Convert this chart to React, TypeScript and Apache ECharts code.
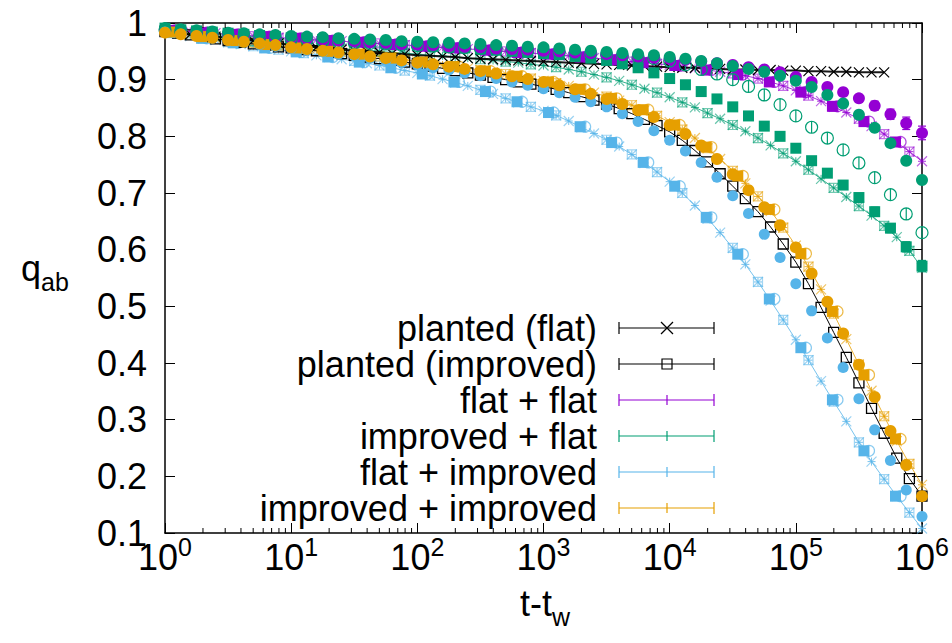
import React, { useEffect, useRef } from "react";
import * as echarts from "echarts";

// Waiting times t - t_w (log-spaced samples)
const T_DENSE = [
  1, 1.259, 1.585, 1.995, 2.512, 3.162, 3.981, 5.012, 6.31, 7.943,
  10, 12.59, 15.85, 19.95, 25.12, 31.62, 39.81, 50.12, 63.1, 79.43,
  100, 125.9, 158.5, 199.5, 251.2, 316.2, 398.1, 501.2, 631, 794.3,
  1000, 1259, 1585, 1995, 2512, 3162, 3981, 5012, 6310, 7943,
  10000, 12589, 15849, 19953, 25119, 31623, 39811, 50119, 63096, 79433,
  100000, 125893, 158489, 199526, 251189, 316228, 398107, 501187, 630957, 794328,
  1000000,
];
const T_SPARSE = [
  1, 1.334, 1.778, 2.371, 3.162, 4.217, 5.623, 7.499,
  10, 13.34, 17.78, 23.71, 31.62, 42.17, 56.23, 74.99,
  100, 133.4, 177.8, 237.1, 316.2, 421.7, 562.3, 749.9,
  1000, 1334, 1778, 2371, 3162, 4217, 5623, 7499,
  10000, 13335, 17783, 23714, 31623, 42170, 56234, 74989,
  100000, 133352, 177828, 237137, 316228, 421697, 562341, 749894,
  1000000,
];
const T_QUARTER = [
  1.096, 1.95, 3.467, 6.166, 10.96, 19.5, 34.67, 61.66, 109.6, 195, 346.7, 616.6,
  1096, 1950, 3467, 6166, 10965, 19498, 34674, 61660, 109648, 194984, 346737, 616595,
];
const T_QUARTER_B = [
  1.202, 2.138, 3.802, 6.761, 12.02, 21.38, 38.02, 67.61, 120.2, 213.8, 380.2, 676.1,
  1202, 2138, 3802, 6761, 12023, 21380, 38019, 67608, 120226, 213796, 380189, 676083,
];

// planted (flat) / planted (improved)
const PLANTED_FLAT = [
  0.985, 0.982, 0.98, 0.978, 0.976, 0.974, 0.972, 0.969, 0.966, 0.964,
  0.961, 0.959, 0.957, 0.955, 0.953, 0.951, 0.95, 0.948, 0.946, 0.945,
  0.943, 0.942, 0.941, 0.94, 0.938, 0.937, 0.936, 0.935, 0.934, 0.933,
  0.932, 0.931, 0.93, 0.929, 0.928, 0.927, 0.926, 0.925, 0.924, 0.923,
  0.922, 0.921, 0.921, 0.92, 0.919, 0.918, 0.918, 0.917, 0.917, 0.916,
  0.916, 0.915, 0.915, 0.914, 0.914, 0.913, 0.913, 0.913,
];
const PLANTED_IMPROVED = [
  0.985, 0.982, 0.979, 0.976, 0.972, 0.969, 0.966, 0.963, 0.961, 0.958,
  0.956, 0.953, 0.951, 0.948, 0.946, 0.943, 0.94, 0.937, 0.934, 0.931,
  0.928, 0.924, 0.92, 0.916, 0.912, 0.908, 0.904, 0.9, 0.896, 0.892,
  0.888, 0.883, 0.877, 0.87, 0.864, 0.857, 0.849, 0.84, 0.83, 0.819,
  0.808, 0.793, 0.775, 0.755, 0.734, 0.712, 0.69, 0.667, 0.64, 0.61,
  0.578, 0.54, 0.498, 0.454, 0.41, 0.365, 0.32, 0.276, 0.232, 0.196,
  0.165,
];

// flat + flat
const FF_LINE = [
  0.988, 0.986, 0.985, 0.983, 0.982, 0.98, 0.979, 0.977, 0.976, 0.974,
  0.973, 0.972, 0.97, 0.969, 0.968, 0.966, 0.965, 0.964, 0.962, 0.961,
  0.96, 0.958, 0.957, 0.956, 0.954, 0.953, 0.951, 0.95, 0.948, 0.947,
  0.945, 0.944, 0.942, 0.94, 0.938, 0.936, 0.934, 0.932, 0.93, 0.928,
  0.926, 0.923, 0.92, 0.917, 0.914, 0.911, 0.907, 0.902, 0.896, 0.889,
  0.881, 0.872, 0.862, 0.852, 0.842, 0.831, 0.818, 0.804, 0.789, 0.773,
  0.756,
];
const FF_CIRCLES = [
  0.988, 0.986, 0.984, 0.982, 0.98, 0.978, 0.977, 0.975,
  0.974, 0.972, 0.971, 0.969, 0.968, 0.966, 0.965, 0.963,
  0.962, 0.961, 0.959, 0.958, 0.957, 0.955, 0.954, 0.953,
  0.951, 0.95, 0.948, 0.947, 0.945, 0.943, 0.941, 0.939,
  0.937, 0.935, 0.932, 0.929, 0.926, 0.922, 0.918, 0.913,
  0.905, 0.896, 0.887, 0.878, 0.867, 0.854, 0.839, 0.823,
  0.806,
];
const FF_CIRCLES_ERR_TAIL = [0.004, 0.005, 0.006, 0.007, 0.008, 0.009, 0.011, 0.012];
const FF_SQUARES = [
  0.987, 0.983, 0.98, 0.976, 0.973, 0.969, 0.966, 0.962, 0.959, 0.956, 0.952, 0.948,
  0.945, 0.94, 0.935, 0.93, 0.925, 0.917, 0.909, 0.896, 0.878, 0.853, 0.826, 0.79,
];

// improved + flat
const IF_LINE = [
  0.986, 0.983, 0.98, 0.977, 0.975, 0.972, 0.97, 0.968, 0.966, 0.964,
  0.962, 0.96, 0.958, 0.957, 0.955, 0.953, 0.952, 0.95, 0.948, 0.947,
  0.945, 0.943, 0.942, 0.94, 0.938, 0.936, 0.934, 0.932, 0.93, 0.927,
  0.925, 0.922, 0.918, 0.914, 0.909, 0.904, 0.898, 0.891, 0.884, 0.877,
  0.869, 0.86, 0.851, 0.841, 0.831, 0.82, 0.809, 0.797, 0.784, 0.77,
  0.756, 0.741, 0.725, 0.709, 0.693, 0.677, 0.66, 0.642, 0.622, 0.598,
  0.568,
];
const IF_CIRCLES = [
  0.991, 0.989, 0.987, 0.985, 0.983, 0.982, 0.98, 0.979,
  0.977, 0.976, 0.975, 0.973, 0.972, 0.971, 0.97, 0.968,
  0.967, 0.966, 0.965, 0.964, 0.963, 0.961, 0.96, 0.958,
  0.957, 0.955, 0.953, 0.951, 0.949, 0.947, 0.945, 0.943,
  0.94, 0.937, 0.933, 0.929, 0.924, 0.919, 0.914, 0.907,
  0.898, 0.887, 0.873, 0.858, 0.838, 0.815, 0.788, 0.757,
  0.723,
];
const IF_SQUARES = [
  0.991, 0.988, 0.986, 0.984, 0.982, 0.98, 0.978, 0.976,
  0.974, 0.973, 0.971, 0.969, 0.967, 0.966, 0.964, 0.962,
  0.961, 0.959, 0.957, 0.956, 0.954, 0.952, 0.95, 0.948,
  0.946, 0.944, 0.941, 0.938, 0.934, 0.928, 0.921, 0.912,
  0.902, 0.891, 0.879, 0.866, 0.852, 0.836, 0.818, 0.8,
  0.779, 0.757, 0.735, 0.714, 0.692, 0.667, 0.638, 0.605,
  0.571,
];
const IF_SQUARES_ERR_TAIL = [0.005, 0.006, 0.006, 0.007, 0.008, 0.008, 0.009, 0.01];
const IF_OPEN = [
  0.988, 0.985, 0.983, 0.981, 0.979, 0.977, 0.975, 0.973,
  0.971, 0.97, 0.968, 0.967, 0.965, 0.964, 0.963, 0.961,
  0.96, 0.959, 0.958, 0.956, 0.955, 0.954, 0.953, 0.951,
  0.95, 0.949, 0.947, 0.946, 0.944, 0.942, 0.94, 0.937,
  0.933, 0.926, 0.918, 0.91, 0.9, 0.888, 0.873, 0.856,
  0.836, 0.816, 0.797, 0.776, 0.753, 0.727, 0.697, 0.663,
  0.63,
];

// flat + improved
const FI_LINE = [
  0.985, 0.981, 0.977, 0.973, 0.97, 0.966, 0.963, 0.959, 0.956, 0.953,
  0.95, 0.947, 0.943, 0.94, 0.936, 0.933, 0.929, 0.925, 0.921, 0.916,
  0.912, 0.907, 0.901, 0.895, 0.889, 0.882, 0.875, 0.867, 0.86, 0.852,
  0.845, 0.837, 0.827, 0.816, 0.805, 0.794, 0.782, 0.768, 0.753, 0.737,
  0.72, 0.7, 0.678, 0.655, 0.63, 0.603, 0.574, 0.543, 0.51, 0.476,
  0.441, 0.405, 0.368, 0.332, 0.297, 0.26, 0.226, 0.195, 0.165, 0.136,
  0.108,
];
const FI_CIRCLES = [
  0.984, 0.98, 0.977, 0.973, 0.969, 0.966, 0.962, 0.959,
  0.955, 0.952, 0.949, 0.945, 0.942, 0.938, 0.934, 0.93,
  0.926, 0.921, 0.917, 0.912, 0.907, 0.902, 0.896, 0.89,
  0.884, 0.877, 0.869, 0.861, 0.852, 0.84, 0.826, 0.81,
  0.793, 0.774, 0.754, 0.728, 0.695, 0.664, 0.627, 0.586,
  0.54, 0.492, 0.444, 0.392, 0.337, 0.282, 0.228, 0.176,
  0.129,
];
const FI_SQUARES = [
  0.983, 0.973, 0.965, 0.956, 0.949, 0.94, 0.931, 0.921, 0.91, 0.896, 0.879, 0.861,
  0.842, 0.817, 0.789, 0.754, 0.712, 0.657, 0.592, 0.513, 0.427, 0.335, 0.245, 0.165,
];

// improved + improved
const II_LINE = [
  0.985, 0.982, 0.979, 0.976, 0.973, 0.97, 0.967, 0.965, 0.962, 0.96,
  0.957, 0.955, 0.953, 0.95, 0.948, 0.946, 0.943, 0.941, 0.938, 0.935,
  0.932, 0.929, 0.926, 0.923, 0.92, 0.917, 0.913, 0.91, 0.906, 0.902,
  0.898, 0.894, 0.889, 0.883, 0.877, 0.87, 0.863, 0.855, 0.846, 0.836,
  0.825, 0.812, 0.797, 0.779, 0.76, 0.739, 0.717, 0.694, 0.668, 0.639,
  0.607, 0.57, 0.53, 0.487, 0.442, 0.397, 0.351, 0.306, 0.262, 0.222,
  0.185,
];
const II_CIRCLES = [
  0.983, 0.98, 0.977, 0.974, 0.97, 0.967, 0.964, 0.961,
  0.957, 0.954, 0.951, 0.948, 0.945, 0.941, 0.938, 0.934,
  0.93, 0.927, 0.923, 0.919, 0.915, 0.911, 0.906, 0.901,
  0.896, 0.89, 0.883, 0.875, 0.866, 0.857, 0.846, 0.834,
  0.82, 0.804, 0.784, 0.76, 0.733, 0.705, 0.675, 0.643,
  0.604, 0.558, 0.508, 0.452, 0.397, 0.34, 0.28, 0.22,
  0.165,
];
const II_SQUARES = [
  0.984, 0.976, 0.969, 0.962, 0.956, 0.95, 0.945, 0.938, 0.931, 0.923, 0.915, 0.906,
  0.896, 0.883, 0.867, 0.847, 0.82, 0.781, 0.73, 0.671, 0.593, 0.491, 0.379, 0.266,
];

const LEGEND_LABELS = [
  "planted (flat)",
  "planted (improved)",
  "flat + flat",
  "improved + flat",
  "flat + improved",
  "improved + improved",
];

const BLACK = "#000000";
const PURPLE = "#9400d3";
const GREEN = "#009e73";
const BLUE = "#56b4e9";
const ORANGE = "#e69f00";
const FONT = "'Liberation Sans', Arial, Helvetica, sans-serif";

const PLUS = "path://M5,0L5,10M0,5L10,5";
const CROSS = "path://M0,0L10,10M10,0L0,10";
const CIRCLE_BAR = "path://M10,5A5,5,0,1,1,0,5A5,5,0,1,1,10,5ZM5,0L5,10";

const pts = (ts: number[], vs: number[]) => vs.map((v, i) => [ts[i], v]);
const everyOther = (d: number[][]) => d.filter((_, i) => i % 2 === 1);
const tailErr = (ts: number[], vs: number[], errs: number[]) => {
  const off = vs.length - errs.length;
  return errs.map((e, i) => [ts[off + i], vs[off + i], e]);
};

function lineSeries(data: number[][], color: string, opacity = 1) {
  return {
    type: "line",
    data,
    symbol: PLUS,
    symbolSize: 8,
    showSymbol: true,
    silent: true,
    z: 2,
    lineStyle: { color, width: 1, opacity },
    itemStyle: { color: "rgba(0,0,0,0)", borderColor: color, borderWidth: 1, opacity },
  };
}

function markSeries(
  data: number[][],
  color: string,
  symbol: string,
  size: number,
  filled: boolean,
  opacity = 1,
  z = 3
) {
  return {
    type: "scatter",
    data,
    symbol,
    symbolSize: size,
    silent: true,
    z,
    itemStyle: filled
      ? { color, opacity }
      : { color: "rgba(0,0,0,0)", borderColor: color, borderWidth: 1.2, opacity },
  };
}

function errorBars(data: number[][], color: string) {
  return {
    type: "custom",
    data,
    silent: true,
    clip: false,
    z: 4,
    encode: { x: 0, y: 1 },
    renderItem: (_p: any, api: any) => {
      const t = api.value(0);
      const q = api.value(1);
      const e = api.value(2);
      const lo = api.coord([t, q - e]);
      const hi = api.coord([t, q + e]);
      const x = lo[0];
      const st = { stroke: color, lineWidth: 1.2 };
      return {
        type: "group",
        children: [
          { type: "line", shape: { x1: x, y1: lo[1], x2: x, y2: hi[1] }, style: st },
          { type: "line", shape: { x1: x - 4, y1: lo[1], x2: x + 4, y2: lo[1] }, style: st },
          { type: "line", shape: { x1: x - 4, y1: hi[1], x2: x + 4, y2: hi[1] }, style: st },
        ],
      };
    },
  };
}

// minor ticks of the log axis, 2..9 in every decade, on the bottom and top frame
const MINOR_TICKS: number[][] = [];
for (let d = 0; d < 6; d++) {
  for (let m = 2; m <= 9; m++) MINOR_TICKS.push([m * Math.pow(10, d), 0.1]);
}

function minorTickSeries() {
  return {
    type: "custom",
    data: MINOR_TICKS,
    silent: true,
    clip: false,
    z: 10,
    encode: { x: 0, y: 1 },
    renderItem: (_p: any, api: any) => {
      const t = api.value(0);
      const b = api.coord([t, 0.1]);
      const top = api.coord([t, 1]);
      const st = { stroke: BLACK, lineWidth: 1 };
      return {
        type: "group",
        children: [
          { type: "line", shape: { x1: b[0], y1: b[1], x2: b[0], y2: b[1] - 5 }, style: st },
          { type: "line", shape: { x1: top[0], y1: top[1], x2: top[0], y2: top[1] + 5 }, style: st },
        ],
      };
    },
  };
}

function legendGraphics() {
  const colors = [BLACK, BLACK, PURPLE, GREEN, BLUE, ORANGE];
  const els: any[] = [];
  LEGEND_LABELS.forEach((label, i) => {
    const y = 328 + i * 36;
    const c = colors[i];
    els.push({
      type: "text",
      x: 597,
      y,
      style: {
        text: label,
        fill: BLACK,
        fontSize: 36,
        fontFamily: FONT,
        lineHeight: 32,
        align: "right",
        verticalAlign: "middle",
      },
    });
    const st = { stroke: c, lineWidth: 1.2 };
    els.push({ type: "line", shape: { x1: 619, y1: y, x2: 714, y2: y }, style: st });
    els.push({ type: "line", shape: { x1: 619, y1: y - 6, x2: 619, y2: y + 6 }, style: st });
    els.push({ type: "line", shape: { x1: 714, y1: y - 6, x2: 714, y2: y + 6 }, style: st });
    if (i === 0) {
      els.push({ type: "line", shape: { x1: 661, y1: y - 6, x2: 673, y2: y + 6 }, style: st });
      els.push({ type: "line", shape: { x1: 661, y1: y + 6, x2: 673, y2: y - 6 }, style: st });
    } else if (i === 1) {
      els.push({
        type: "rect",
        shape: { x: 662, y: y - 5, width: 10, height: 10 },
        style: { stroke: c, fill: "none", lineWidth: 1.2 },
      });
    } else {
      els.push({ type: "line", shape: { x1: 667, y1: y - 5, x2: 667, y2: y + 5 }, style: st });
    }
  });
  return els;
}

export default function App() {
  const ref = useRef<HTMLDivElement>(null);

  useEffect(() => {
    if (!ref.current) return;
    const chart = echarts.init(ref.current, undefined, { renderer: "svg" });

    const axisLineStyle = { color: BLACK, width: 1.5 };
    const xCommon = {
      type: "log",
      logBase: 10,
      min: 1,
      max: 1000000,
      splitLine: { show: false },
      axisLine: { show: true, lineStyle: axisLineStyle },
      axisTick: { show: true, inside: true, length: 10, lineStyle: { color: BLACK, width: 1 } },
      minorTick: { show: false },
    };
    const yCommon = {
      type: "value",
      min: 0.1,
      max: 1,
      interval: 0.1,
      splitLine: { show: false },
      axisLine: { show: true, lineStyle: axisLineStyle },
      axisTick: { show: true, inside: true, length: 10, lineStyle: { color: BLACK, width: 1 } },
    };

    const series: any[] = [
      // colored families: line with +, and x / open-square samples along it
      lineSeries(pts(T_DENSE, FF_LINE), PURPLE, 0.8),
      lineSeries(pts(T_DENSE, IF_LINE), GREEN, 0.8),
      lineSeries(pts(T_DENSE, FI_LINE), BLUE, 0.8),
      lineSeries(pts(T_DENSE, II_LINE), ORANGE, 0.8),
      markSeries(pts(T_DENSE, FF_LINE), PURPLE, CROSS, 10, false, 0.6),
      markSeries(pts(T_DENSE, IF_LINE), GREEN, CROSS, 10, false, 0.6),
      markSeries(pts(T_DENSE, FI_LINE), BLUE, CROSS, 10, false, 0.6),
      markSeries(pts(T_DENSE, II_LINE), ORANGE, CROSS, 10, false, 0.6),
      markSeries(everyOther(pts(T_DENSE, FF_LINE)), PURPLE, "rect", 9, false, 0.55),
      markSeries(everyOther(pts(T_DENSE, IF_LINE)), GREEN, "rect", 9, false, 0.55),
      markSeries(everyOther(pts(T_DENSE, FI_LINE)), BLUE, "rect", 9, false, 0.55),
      markSeries(everyOther(pts(T_DENSE, II_LINE)), ORANGE, "rect", 9, false, 0.55),
      // open circles next to the filled squares
      markSeries(pts(T_QUARTER_B, FF_SQUARES), PURPLE, "circle", 11, false, 0.7),
      markSeries(pts(T_QUARTER_B, FI_SQUARES), BLUE, "circle", 11, false, 0.7),
      markSeries(pts(T_QUARTER_B, II_SQUARES), ORANGE, "circle", 11, false, 0.7),
      // planted references
      {
        ...lineSeries(pts(T_DENSE, PLANTED_FLAT), BLACK, 0.9),
        symbol: CROSS,
        symbolSize: 10,
        z: 5,
        lineStyle: { color: BLACK, width: 2, opacity: 0.9 },
        itemStyle: { color: "rgba(0,0,0,0)", borderColor: BLACK, borderWidth: 1.2 },
      },
      {
        ...lineSeries(pts(T_DENSE, PLANTED_IMPROVED), BLACK, 1),
        symbol: "rect",
        symbolSize: 10,
        z: 5,
        itemStyle: { color: "rgba(0,0,0,0)", borderColor: BLACK, borderWidth: 1.3 },
      },
      // sparse filled/open markers
      markSeries(pts(T_QUARTER, FF_SQUARES), PURPLE, "rect", 11, true, 1, 6),
      markSeries(pts(T_QUARTER, FI_SQUARES), BLUE, "rect", 11, true, 1, 6),
      markSeries(pts(T_QUARTER, II_SQUARES), ORANGE, "rect", 11, true, 1, 6),
      markSeries(pts(T_SPARSE, IF_SQUARES), GREEN, "rect", 11, true, 1, 6),
      markSeries(pts(T_SPARSE, IF_OPEN), GREEN, CIRCLE_BAR, 12, false, 1, 6),
      markSeries(pts(T_SPARSE, FF_CIRCLES), PURPLE, "circle", 12, true, 1, 7),
      markSeries(pts(T_SPARSE, IF_CIRCLES), GREEN, "circle", 12, true, 1, 7),
      markSeries(pts(T_SPARSE, FI_CIRCLES), BLUE, "circle", 11, true, 1, 7),
      markSeries(pts(T_SPARSE, II_CIRCLES), ORANGE, "circle", 12, true, 1, 7),
      errorBars(tailErr(T_SPARSE, FF_CIRCLES, FF_CIRCLES_ERR_TAIL), PURPLE),
      errorBars(tailErr(T_SPARSE, IF_SQUARES, IF_SQUARES_ERR_TAIL), GREEN),
      minorTickSeries(),
    ];

    chart.setOption({
      animation: false,
      backgroundColor: "#ffffff",
      textStyle: { fontFamily: FONT },
      grid: { left: 165, right: 30, top: 23, bottom: 110, containLabel: false },
      xAxis: [
        {
          ...xCommon,
          position: "bottom",
          axisLabel: {
            show: true,
            margin: 12,
            color: BLACK,
            fontFamily: FONT,
            formatter: (v: number) => `{b|10}{s|${Math.round(Math.log10(v))}}`,
            rich: {
              b: { fontSize: 36, fontFamily: FONT, color: BLACK, verticalAlign: "bottom", lineHeight: 30 },
              s: {
                fontSize: 25,
                fontFamily: FONT,
                color: BLACK,
                verticalAlign: "bottom",
                lineHeight: 30,
                padding: [0, 0, 16, 0],
              },
            },
          },
        },
        { ...xCommon, position: "top", axisLabel: { show: false } },
      ],
      yAxis: [
        {
          ...yCommon,
          position: "left",
          axisLabel: {
            show: true,
            margin: 18,
            color: BLACK,
            fontSize: 36,
            fontFamily: FONT,
            lineHeight: 30,
            formatter: (v: number) => (Math.abs(v - 1) < 1e-9 ? "1" : v.toFixed(1)),
          },
        },
        { ...yCommon, position: "right", axisLabel: { show: false } },
      ],
      graphic: [
        {
          type: "text",
          x: 545,
          y: 606,
          style: {
            text: "{a|t-t}{b|w}",
            align: "center",
            verticalAlign: "middle",
            rich: {
              a: { fontSize: 36, fontFamily: FONT, fill: BLACK, verticalAlign: "bottom", lineHeight: 30 },
              b: {
                fontSize: 25,
                fontFamily: FONT,
                fill: BLACK,
                verticalAlign: "bottom",
                lineHeight: 30,
                padding: [0, 0, -8, 0],
              },
            },
          },
        },
        {
          type: "text",
          x: 45,
          y: 268,
          style: {
            text: "{a|q}{b|ab}",
            align: "center",
            verticalAlign: "middle",
            rich: {
              a: { fontSize: 36, fontFamily: FONT, fill: BLACK, verticalAlign: "bottom" },
              b: {
                fontSize: 25,
                fontFamily: FONT,
                fill: BLACK,
                verticalAlign: "bottom",
                padding: [0, 0, -8, 0],
              },
            },
          },
        },
        ...legendGraphics(),
      ],
      series,
    });

    return () => chart.dispose();
  }, []);

  return (
    <div
      ref={ref}
      style={{ position: "fixed", left: 0, top: 0, width: 952, height: 643, background: "#fff" }}
    />
  );
}
